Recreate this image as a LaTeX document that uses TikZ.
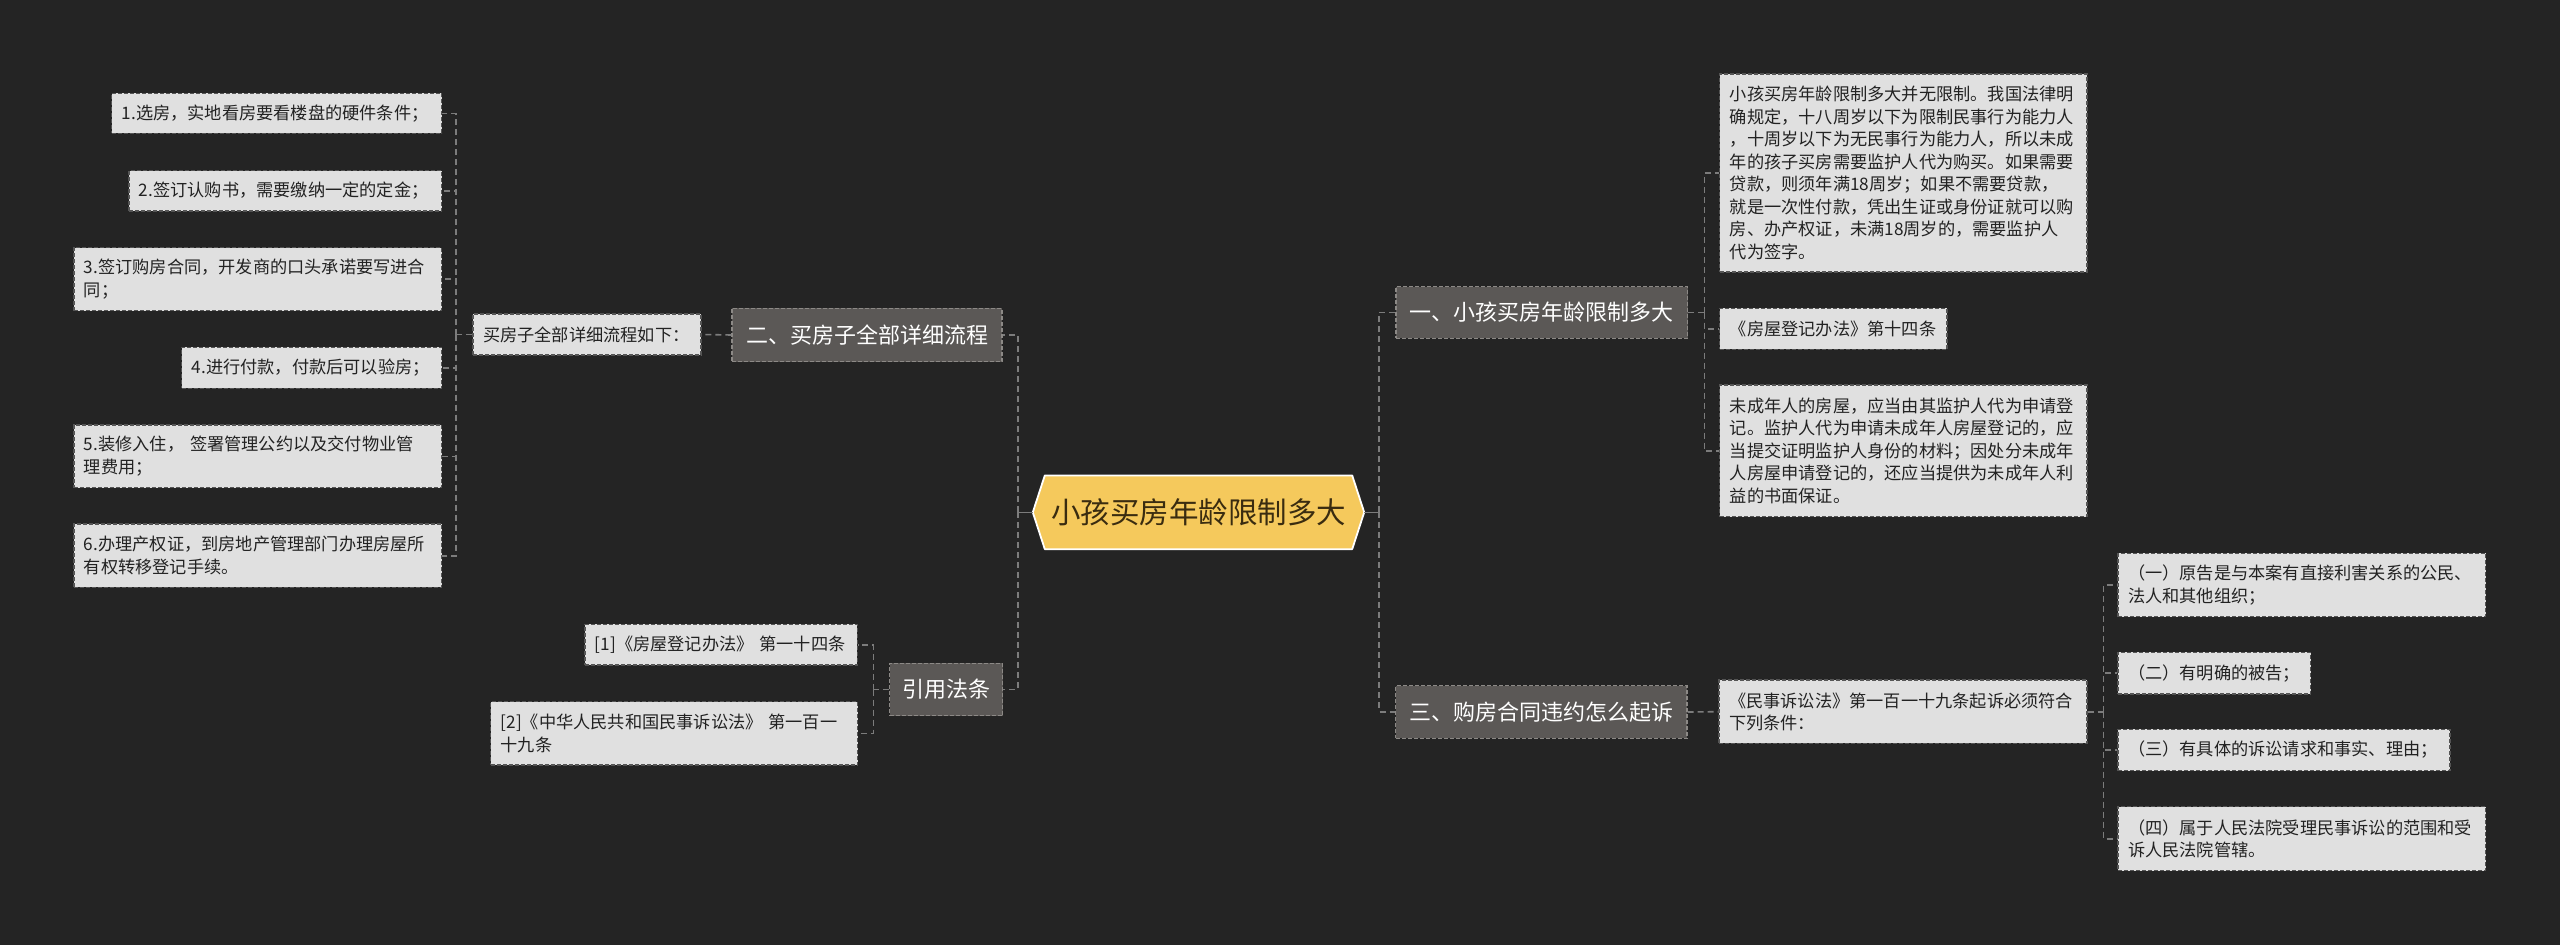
\documentclass[tikz,border=0pt]{standalone}
\usepackage{fontspec}
\setmainfont{Noto Sans CJK SC}
\usetikzlibrary{backgrounds}
\definecolor{bgc}{HTML}{242424}
\definecolor{leaffill}{HTML}{E0E0E0}
\definecolor{leafline}{HTML}{555555}
\definecolor{leaftext}{HTML}{222222}
\definecolor{brfill}{HTML}{5B5856}
\definecolor{brline}{HTML}{8C8986}
\definecolor{cfill}{HTML}{F5C95C}
\definecolor{ctext}{HTML}{3A2C10}
\definecolor{conncol}{HTML}{7C7C7C}
\tikzset{
  leaf/.style={fill=leaffill, draw=leafline, dash pattern=on 4pt off 2pt, line width=1.2pt,
    text=leaftext, align=left, inner xsep=10pt, inner ysep=0pt,
    font=\fontsize{17.2}{22.5}\selectfont},
  branch/.style={fill=brfill, draw=brline, dash pattern=on 4pt off 2pt, line width=1.2pt,
    text=white, align=center, inner xsep=11pt, inner ysep=0pt,
    font=\fontsize{22}{28}\selectfont},
  centernode/.style={text=ctext, inner sep=0pt, minimum width=331pt, minimum height=73.3pt,
    font=\fontsize{29.5}{34}\selectfont},
  conn/.style={draw=conncol, line width=1.6pt, dash pattern=on 6pt off 4pt},
  connsolid/.style={draw=conncol, line width=1.6pt}
}
\begin{document}
\begin{tikzpicture}[x=1pt,y=-1pt]
\useasboundingbox (0,0) rectangle (2560,945);
\begin{scope}[on background layer]
\fill[bgc] (0,0) rectangle (2560,945);
\end{scope}

% center
\node[centernode] (C) at (1198.5,512.3) {小孩买房年龄限制多大};
\begin{scope}[on background layer]
\filldraw[fill=cfill, draw=white, line width=1.8pt, line join=round]
  (C.west) -- ([xshift=12pt]C.north west) -- ([xshift=-12pt]C.north east) -- (C.east)
  -- ([xshift=-12pt]C.south east) -- ([xshift=12pt]C.south west) -- cycle;
\end{scope}

% left branch 2
\node[branch, text width=248pt, minimum height=53.4pt] (B2) at (867,335) {二、买房子全部详细流程};
\node[leaf, text width=208pt, minimum height=41pt] (S2) at (587,334.5) {买房子全部详细流程如下：};
\node[leaf, text width=310pt, minimum height=40pt] (L1) at (276.7,113.3) {1.选房，实地看房要看楼盘的硬件条件；};
\node[leaf, text width=292.7pt, minimum height=40.3pt] (L2) at (285.3,190.8) {2.签订认购书，需要缴纳一定的定金；};
\node[leaf, text width=347.7pt, minimum height=63pt] (L3) at (257.8,279.2) {3.签订购房合同，开发商的口头承诺要写进合\\同；};
\node[leaf, text width=240pt, minimum height=41pt] (L4) at (311.7,367.8) {4.进行付款，付款后可以验房；};
\node[leaf, text width=347.7pt, minimum height=62.7pt] (L5) at (257.8,456.3) {5.装修入住，~签署管理公约以及交付物业管\\理费用；};
\node[leaf, text width=347.7pt, minimum height=63.3pt] (L6) at (257.8,555.7) {6.办理产权证，到房地产管理部门办理房屋所\\有权转移登记手续。};

% left branch 4
\node[branch, text width=91pt, minimum height=52.4pt] (B4) at (946,689.5) {引用法条};
\node[leaf, text width=252.5pt, minimum height=40.7pt] (R1) at (721.2,644.7) {[1]《房屋登记办法》~第一十四条};
\node[leaf, text width=346.8pt, minimum height=63.3pt] (R2) at (674.1,733.3) {[2]《中华人民共和国民事诉讼法》~第一百一\\十九条};

% right branch 1
\node[branch, text width=269.6pt, minimum height=51.6pt] (B1) at (1541.8,312.5) {一、小孩买房年龄限制多大};
\node[leaf, text width=347.2pt, minimum height=198pt] (T1) at (1903.4,173) {小孩买房年龄限制多大并无限制。我国法律明\\确规定，十八周岁以下为限制民事行为能力人\\，十周岁以下为无民事行为能力人，所以未成\\年的孩子买房需要监护人代为购买。如果需要\\贷款，则须年满18周岁；如果不需要贷款，\\就是一次性付款，凭出生证或身份证就可以购\\房、办产权证，未满18周岁的，需要监护人\\代为签字。};
\node[leaf, text width=207.2pt, minimum height=41pt] (T2) at (1833.4,328.8) {《房屋登记办法》第十四条};
\node[leaf, text width=347.2pt, minimum height=131.7pt] (T3) at (1903.4,450.8) {未成年人的房屋，应当由其监护人代为申请登\\记。监护人代为申请未成年人房屋登记的，应\\当提交证明监护人身份的材料；因处分未成年\\人房屋申请登记的，还应当提供为未成年人利\\益的书面保证。};

% right branch 3
\node[branch, text width=269.3pt, minimum height=52.6pt] (B3) at (1541.4,712) {三、购房合同违约怎么起诉};
\node[leaf, text width=348pt, minimum height=63.3pt] (S3) at (1903,711.7) {《民事诉讼法》第一百一十九条起诉必须符合\\下列条件：};
\node[leaf, text width=347.7pt, minimum height=63.4pt] (Q1) at (2301.9,585) {（一）原告是与本案有直接利害关系的公民、\\法人和其他组织；};
\node[leaf, text width=172.7pt, minimum height=41.7pt] (Q2) at (2214.4,673.2) {（二）有明确的被告；};
\node[leaf, text width=312pt, minimum height=41.4pt] (Q3) at (2284,750) {（三）有具体的诉讼请求和事实、理由；};
\node[leaf, text width=347.7pt, minimum height=64pt] (Q4) at (2301.9,838.7) {（四）属于人民法院受理民事诉讼的范围和受\\诉人民法院管辖。};

% connectors
\draw[connsolid] (C.west) -- ++(-15,0) coordinate (lt);
\draw[connsolid] (C.east) -- ++(15,0) coordinate (rt);
\draw[conn] (lt) |- (B2.east);
\draw[conn] (lt) |- (B4.east);
\draw[conn] (rt) |- (B1.west);
\draw[conn] (rt) |- (B3.west);

\draw[conn] (B2.west) -- (S2.east);
\draw[conn] (S2.west) -- ++(-16.3,0) coordinate (ls);
\foreach \n in {L1,L2,L3,L4,L5,L6} \draw[conn] (ls) |- (\n.east);

\draw[conn] (B4.west) -- ++(-15.6,0) coordinate (lr);
\foreach \n in {R1,R2} \draw[conn] (lr) |- (\n.east);

\draw[conn] (B1.east) -- ++(16.1,0) coordinate (rb1);
\foreach \n in {T1,T2,T3} \draw[conn] (rb1) |- (\n.west);

\draw[conn] (B3.east) -- (S3.west);
\draw[conn] (S3.east) -- ++(16,0) coordinate (rs3);
\foreach \n in {Q1,Q2,Q3,Q4} \draw[conn] (rs3) |- (\n.west);
\end{tikzpicture}
\end{document}
